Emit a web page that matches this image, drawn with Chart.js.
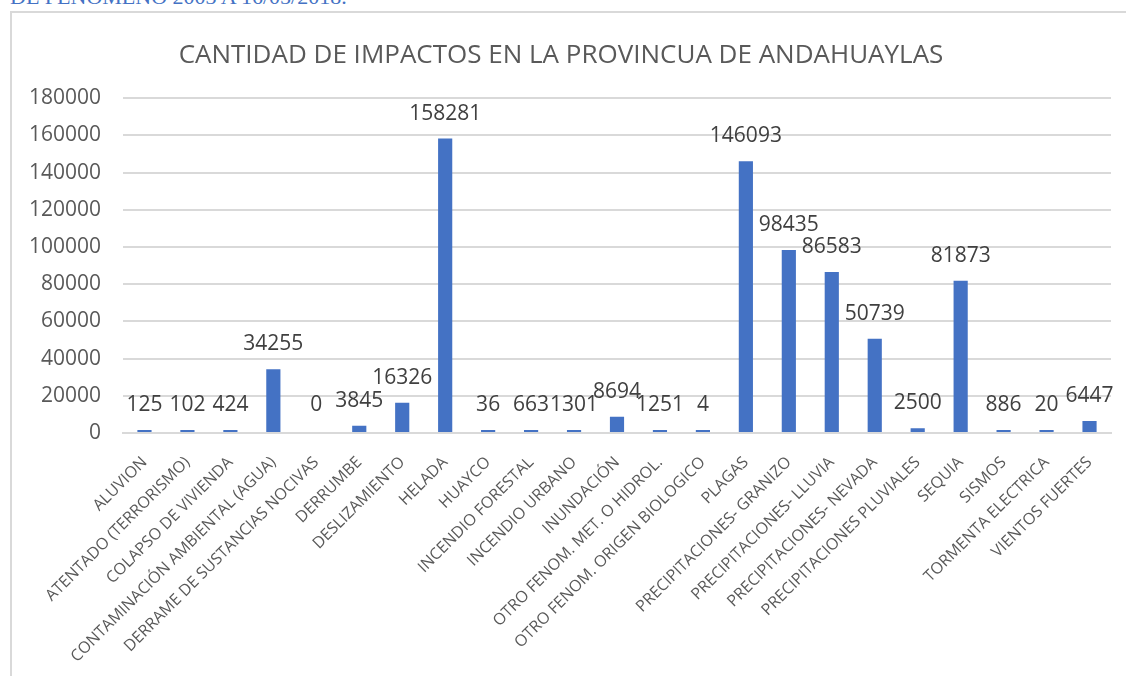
<!DOCTYPE html>
<html lang="es">
<head>
<meta charset="UTF-8">
<title>Cantidad de impactos - Andahuaylas</title>
<script src="https://cdn.jsdelivr.net/npm/chart.js@4.4.1/dist/chart.umd.min.js"></script>
<style>
  html, body { margin: 0; padding: 0; background: #fff; overflow: hidden; }
  body { width: 1126px; height: 676px; position: relative; }
  .cabecera { position: absolute; left: 10px; top: -16px; font-family: "Liberation Serif", serif; font-size: 22px; color: #4472c4; white-space: nowrap; }
  .marco { position: absolute; left: 10px; top: 11px; width: 1130px; height: 680px; border-top: 2px solid #d9d9d9; border-left: 2px solid #d9d9d9; }
  .lienzo { position: absolute; left: 11px; top: 13px; width: 1115px; height: 663px; }
</style>
</head>
<body>
<div class="cabecera">DE FENÓMENO 2003 A 16/05/2018.</div>
<div class="marco"></div>
<div class="lienzo"><canvas id="grafico"></canvas></div>

<script>
// datos
const titulo = 'CANTIDAD DE IMPACTOS EN LA PROVINCUA DE ANDAHUAYLAS'
const categorias = ['ALUVION', 'ATENTADO (TERRORISMO)', 'COLAPSO DE VIVIENDA', 'CONTAMINACIÓN AMBIENTAL (AGUA)',
  'DERRAME DE SUSTANCIAS NOCIVAS', 'DERRUMBE', 'DESLIZAMIENTO', 'HELADA', 'HUAYCO', 'INCENDIO FORESTAL',
  'INCENDIO URBANO', 'INUNDACIÓN', 'OTRO FENOM. MET. O HIDROL.', 'OTRO FENOM. ORIGEN BIOLOGICO', 'PLAGAS',
  'PRECIPITACIONES- GRANIZO', 'PRECIPITACIONES- LLUVIA', 'PRECIPITACIONES- NEVADA', 'PRECIPITACIONES PLUVIALES',
  'SEQUIA', 'SISMOS', 'TORMENTA ELECTRICA', 'VIENTOS FUERTES']
const impactos = [125, 102, 424, 34255, 0, 3845, 16326, 158281, 36, 663, 1301, 8694, 1251, 4, 146093,
  98435, 86583, 50739, 2500, 81873, 886, 20, 6447]
const ticksY = [0, 20000, 40000, 60000, 80000, 100000, 120000, 140000, 160000, 180000]

const gris = '#595959'
const fuente = '"Open Sans", sans-serif'

// etiquetas de valor encima de cada barra
const etiquetas = {
  id: 'etiquetas',
  afterDatasetsDraw(chart) {
    const ctx = chart.ctx
    const meta = chart.getDatasetMeta(0)
    ctx.save()
    ctx.font = '21px ' + fuente
    ctx.fillStyle = '#404040'
    ctx.textAlign = 'center'
    ctx.textBaseline = 'middle'
    meta.data.forEach((bar, i) => {
      ctx.fillText(String(impactos[i]), bar.x, bar.y - 25)
    })
    ctx.restore()
  }
}

new Chart(document.getElementById('grafico'), {
  type: 'bar',
  data: {
    labels: categorias,
    datasets: [{
      data: impactos,
      backgroundColor: c => impactos[c.dataIndex] === 0 ? 'rgba(0,0,0,0)' : '#4472c4',
      barPercentage: 0.33,
      categoryPercentage: 1,
      minBarLength: 3
    }]
  },
  options: {
    responsive: true,
    maintainAspectRatio: false,
    animation: false,
    layout: { padding: { left: 0, right: 15, top: 0, bottom: 0 } },
    plugins: {
      legend: { display: false },
      tooltip: { enabled: false },
      title: {
        display: true,
        text: titulo,
        color: gris,
        font: { family: fuente, size: 26, weight: 'normal' },
        padding: { top: 27, bottom: 27 }
      }
    },
    scales: {
      x: {
        grid: { display: false, drawTicks: false },
        border: { display: true, color: '#d9d9d9', width: 2 },
        ticks: {
          color: gris,
          font: { family: fuente, size: 16 },
          minRotation: 45,
          maxRotation: 45,
          autoSkip: false,
          padding: 20
        },
        afterFit: s => { s.height = 243 }
      },
      y: {
        min: 0,
        max: ticksY[ticksY.length - 1],
        afterBuildTicks: s => { s.ticks = ticksY.map(v => ({ value: v })) },
        grid: { color: '#d9d9d9', lineWidth: 2, drawTicks: false },
        border: { display: false },
        ticks: {
          color: gris,
          font: { family: fuente, size: 21 },
          padding: 22,
          callback: v => String(v)
        },
        afterFit: s => { s.width = 112 }
      }
    }
  },
  plugins: [etiquetas]
})
</script>
</body>
</html>
